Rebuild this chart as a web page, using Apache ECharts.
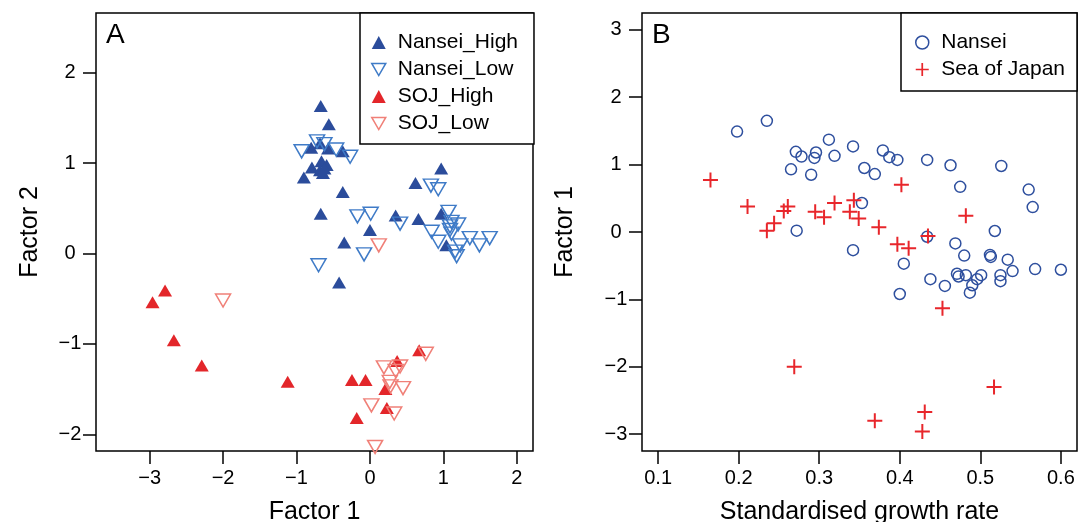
<!DOCTYPE html>
<html><head><meta charset="utf-8">
<script src="https://cdn.jsdelivr.net/npm/echarts@6/dist/echarts.min.js"></script>
<style>html,body{margin:0;padding:0;background:#fff}#c{width:1078px;height:522px}</style>
</head><body><div id="c"></div>
<script>
// ---- Panel A data (Factor 1, Factor 2) ----
const nanseiHigh = [[-0.67,1.63],[-0.56,1.43],[-0.68,1.22],[-0.80,1.17],[-0.57,1.16],[-0.37,1.13],
 [-0.79,0.95],[-0.66,1.02],[-0.59,0.98],[-0.68,0.92],[-0.64,0.89],[-0.90,0.84],[-0.62,0.94],
 [-0.37,0.68],[-0.67,0.44],[0.00,0.26],[-0.35,0.12],[-0.42,-0.32],
 [0.35,0.42],[0.62,0.78],[0.97,0.94],[0.66,0.38],[0.97,0.44],[1.04,0.09]];
const nanseiLow = [[-0.72,1.24],[-0.62,1.21],[-0.93,1.13],[-0.46,1.15],[-0.27,1.07],
 [-0.17,0.41],[0.01,0.44],[-0.08,-0.01],[-0.70,-0.13],
 [0.41,0.33],[0.83,0.75],[0.93,0.71],[1.07,0.46],[1.11,0.35],[1.20,0.32],[1.09,0.30],[1.09,0.26],
 [1.11,0.22],[0.84,0.24],[0.93,0.13],[1.36,0.17],[1.49,0.09],[1.63,0.17],[1.23,0.09],[1.16,0.02],[1.18,-0.03]];
const sojHigh = [[-2.79,-0.41],[-2.96,-0.54],[-2.67,-0.96],[-2.29,-1.24],[-1.12,-1.42],[0.67,-1.07],
 [0.37,-1.19],[-0.245,-1.40],[-0.06,-1.40],[0.21,-1.50],[0.23,-1.71],[-0.18,-1.82]];
const sojLow = [[-2.0,-0.52],[0.12,0.09],[0.76,-1.11],[0.19,-1.26],[0.41,-1.25],[0.35,-1.30],
 [0.27,-1.42],[0.28,-1.47],[0.45,-1.49],[0.02,-1.68],[0.33,-1.77],[0.07,-2.14]];
// ---- Panel B data (Standardised growth rate, Factor 1) ----
const nanseiB = [[0.198,1.49],[0.235,1.65],[0.271,1.19],[0.278,1.12],[0.296,1.18],[0.294,1.10],[0.312,1.37],
 [0.319,1.13],[0.342,1.27],[0.265,0.93],[0.290,0.85],[0.356,0.95],[0.353,0.43],[0.272,0.02],[0.342,-0.27],
 [0.379,1.21],[0.387,1.11],[0.397,1.07],[0.369,0.86],[0.434,1.07],[0.463,0.99],[0.526,0.98],[0.475,0.67],
 [0.560,0.63],[0.565,0.37],[0.518,0.015],[0.434,-0.07],[0.469,-0.17],[0.480,-0.35],[0.512,-0.34],[0.513,-0.37],
 [0.534,-0.41],[0.405,-0.47],[0.568,-0.55],[0.600,-0.56],[0.540,-0.58],[0.438,-0.70],[0.471,-0.62],[0.473,-0.66],
 [0.482,-0.64],[0.496,-0.70],[0.501,-0.64],[0.525,-0.64],[0.525,-0.73],[0.456,-0.80],[0.490,-0.79],[0.487,-0.90],[0.400,-0.92]];
const sojB = [[0.165,0.77],[0.211,0.38],[0.256,0.31],[0.261,0.38],[0.235,0.02],[0.244,0.13],[0.295,0.30],
 [0.306,0.22],[0.319,0.43],[0.338,0.30],[0.343,0.47],[0.349,0.20],[0.402,0.70],[0.482,0.24],[0.374,0.07],
 [0.397,-0.18],[0.411,-0.24],[0.435,-0.06],[0.453,-1.13],[0.269,-2.0],[0.517,-2.30],[0.431,-2.67],[0.369,-2.80],[0.428,-2.96]];
// ---- ticks ----
const ticksAX = [-3,-2,-1,0,1,2];
const ticksAY = [-2,-1,0,1,2];
const ticksBX = [0.1,0.2,0.3,0.4,0.5,0.6];
const ticksBY = [-3,-2,-1,0,1,2,3];

const FONT = "'Liberation Sans', Arial, Helvetica, sans-serif";
const C = {nh:'#2b4c9b', nl:'#3f7bc7', sh:'#e3262a', sl:'#f08078', nb:'#2e4f9e', sb:'#e8262b'};
const DOWN = 'path://M0,0L10,0L5,8.66Z';
const PLUS = 'path://M0,6.5H15V8.5H0Z M6.5,0H8.5V15H6.5Z';
const minus = v => String(v).replace('-', '\u2212');

function xAxis(idx, min, max, ticks, name, fmt){
  return {type:'value', gridIndex:idx, min, max, name, nameLocation:'middle', nameGap:61,
    nameTextStyle:{fontSize:25, color:'#000', fontFamily:FONT, verticalAlign:'middle'},
    axisLine:{show:false, onZero:false}, splitLine:{show:false},
    axisTick:{show:true, inside:false, length:13, customValues:ticks, lineStyle:{color:'#000', width:1.5}},
    axisLabel:{customValues:ticks, margin:27, verticalAlign:'middle', fontSize:20, color:'#000', fontFamily:FONT, formatter:fmt}};
}
function yAxis(idx, min, max, ticks, name, gap){
  return {type:'value', gridIndex:idx, min, max, name, nameLocation:'middle', nameGap:gap, nameRotate:90,
    nameTextStyle:{fontSize:25, color:'#000', fontFamily:FONT, verticalAlign:'middle'},
    axisLine:{show:false, onZero:false}, splitLine:{show:false},
    axisTick:{show:true, inside:false, length:13, customValues:ticks, lineStyle:{color:'#000', width:1.5}},
    axisLabel:{customValues:ticks, margin:26, align:'center', fontSize:20, color:'#000', fontFamily:FONT, formatter:v=>minus(v)}};
}
const legendText = {fontSize:21, lineHeight:20, color:'#000', fontFamily:FONT, padding:[0,0,0,7]};

const option = {
  animation:false,
  backgroundColor:'#fff',
  title:[
    {text:'A', left:106, top:21, padding:0, textStyle:{fontSize:28, fontWeight:'normal', color:'#000', fontFamily:FONT}},
    {text:'B', left:652, top:21, padding:0, textStyle:{fontSize:28, fontWeight:'normal', color:'#000', fontFamily:FONT}}
  ],
  grid:[
    {left:96, top:13, width:437, height:438, show:true, borderColor:'#000', borderWidth:1.5, backgroundColor:'#fff', containLabel:false, outerBoundsMode:'none'},
    {left:642, top:13, width:435, height:438, show:true, borderColor:'#000', borderWidth:1.5, backgroundColor:'#fff', containLabel:false, outerBoundsMode:'none'}
  ],
  xAxis:[
    xAxis(0, -3.73, 2.22, ticksAX, 'Factor 1', v=>minus(v)),
    xAxis(1, 0.08, 0.62, ticksBX, 'Standardised growth rate', v=>Number(v).toFixed(1))
  ],
  yAxis:[
    yAxis(0, -2.185, 2.66, ticksAY, 'Factor 2', 66),
    yAxis(1, -3.25, 3.25, ticksBY, 'Factor 1', 77)
  ],
  legend:[
    {left:360, top:13, orient:'vertical', padding:[19,16,10,11], itemWidth:14, itemHeight:13, itemGap:6,
     borderColor:'#000', borderWidth:1.5, backgroundColor:'#fff', selectedMode:false, textStyle:legendText,
     data:[
      {name:'Nansei_High', icon:'triangle', itemStyle:{color:C.nh, borderWidth:0}},
      {name:'Nansei_Low', icon:DOWN, itemStyle:{color:'rgba(0,0,0,0)', borderColor:C.nl, borderWidth:1.5}},
      {name:'SOJ_High', icon:'triangle', itemStyle:{color:C.sh, borderWidth:0}},
      {name:'SOJ_Low', icon:DOWN, itemStyle:{color:'rgba(0,0,0,0)', borderColor:C.sl, borderWidth:1.5}}
     ]},
    {left:901, top:13, orient:'vertical', padding:[19,12,11,14], itemWidth:14, itemHeight:13, itemGap:6,
     borderColor:'#000', borderWidth:1.5, backgroundColor:'#fff', selectedMode:false, textStyle:legendText,
     data:[
      {name:'Nansei', icon:'circle', itemStyle:{color:'rgba(0,0,0,0)', borderColor:C.nb, borderWidth:1.5}},
      {name:'Sea of Japan', icon:PLUS, itemStyle:{color:C.sb, borderWidth:0}}
     ]}
  ],
  series:[
    {name:'Nansei_High', type:'scatter', xAxisIndex:0, yAxisIndex:0, data:nanseiHigh, symbol:'triangle', symbolSize:[14,12],
     itemStyle:{color:C.nh, opacity:1}},
    {name:'Nansei_Low', type:'scatter', xAxisIndex:0, yAxisIndex:0, data:nanseiLow, symbol:DOWN, symbolSize:[15,13],
     itemStyle:{color:'rgba(0,0,0,0)', borderColor:C.nl, borderWidth:1.5, opacity:1}},
    {name:'SOJ_High', type:'scatter', xAxisIndex:0, yAxisIndex:0, data:sojHigh, symbol:'triangle', symbolSize:[14,12],
     itemStyle:{color:C.sh, opacity:1}},
    {name:'SOJ_Low', type:'scatter', xAxisIndex:0, yAxisIndex:0, data:sojLow, symbol:DOWN, symbolSize:[15,13],
     itemStyle:{color:'rgba(0,0,0,0)', borderColor:C.sl, borderWidth:1.5, opacity:1}},
    {name:'Nansei', type:'scatter', xAxisIndex:1, yAxisIndex:1, data:nanseiB, symbol:'circle', symbolSize:11,
     itemStyle:{color:'rgba(0,0,0,0)', borderColor:C.nb, borderWidth:1.5, opacity:1}},
    {name:'Sea of Japan', type:'scatter', xAxisIndex:1, yAxisIndex:1, data:sojB, symbol:PLUS, symbolSize:15,
     itemStyle:{color:C.sb, opacity:1}}
  ]
};
const chart = echarts.init(document.getElementById('c'), null, {renderer:'canvas'});
chart.setOption(option);
</script></body></html>
